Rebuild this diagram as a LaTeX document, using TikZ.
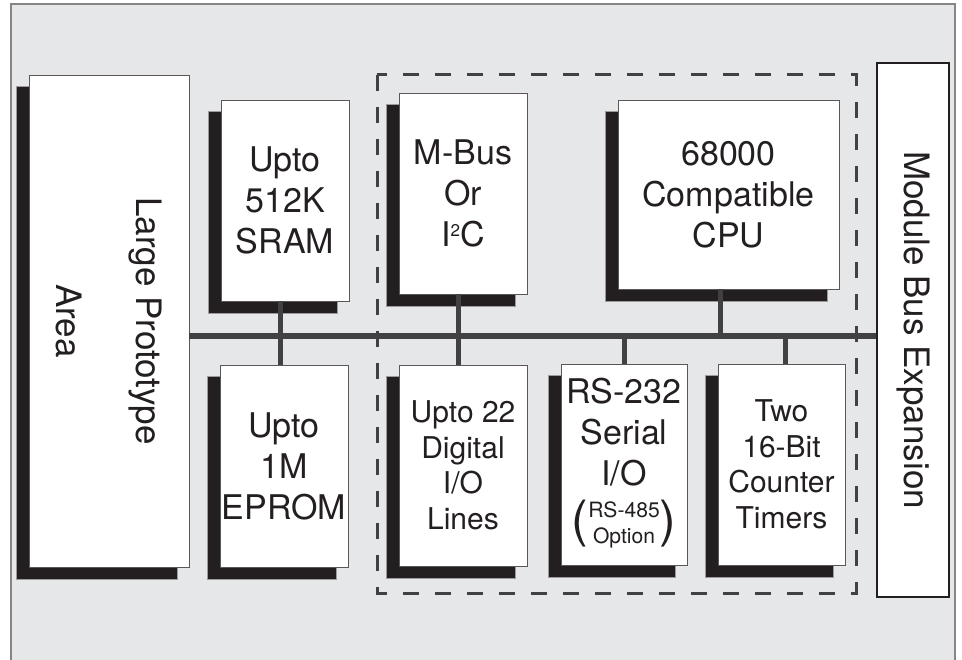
\documentclass[tikz,border=0pt]{standalone}
\usepackage{fontspec}
\usepackage{graphicx}
\setmainfont{TeX Gyre Heros}
\usetikzlibrary{positioning}
\pgfdeclarelayer{back}
\pgfsetlayers{back,main}
\definecolor{panel}{HTML}{E6E7E8}
\definecolor{ink}{HTML}{231F20}
\definecolor{busgray}{HTML}{414042}
\newcommand{\bigtxt}{\fontsize{34}{41}\selectfont}
\newcommand{\midtxt}{\fontsize{30}{35.5}\selectfont}
\newcommand{\paren}[1]{{\fontsize{50}{50}\selectfont#1}}

\begin{document}
\begin{tikzpicture}[x=1pt, y=-1pt,
  box/.style={draw=ink!75, line width=0.8pt, fill=white, text=ink,
              align=center, inner sep=0pt},
  card/.style={box, minimum width=128pt, minimum height=201pt, font=\bigtxt},
  tall/.style={box, rotate=-90, font=\fontsize{35}{80}\selectfont},
  dropfill/.style={fill=ink, draw=ink!45, line width=0.5pt},
  bus/.style={draw=busgray, line width=6pt},
  stub/.style={draw=busgray, line width=5pt},
  coregroup/.style={draw=busgray, line width=3pt, dash pattern=on 16pt off 16pt}]
\useasboundingbox (0,0) rectangle (962,660);
\begin{pgfonlayer}{back}
  \draw[draw=ink!55, line width=1.5pt, fill=panel] (11,664) |- (955,4) -- (955,664);
\end{pgfonlayer}
\coordinate (busY) at (0,336);
% left side: prototype area and memory
\node[tall, minimum width=492pt, minimum height=160pt] (proto) at (109,321)
  {Large Prototype\\Area};
\node[card] (sram) at (285,200.5) {Upto\\512K\\SRAM};
\node[card, minimum height=202pt] (eprom) at (284,466) {Upto\\1M\\EPROM};
% on-board peripherals
\node[card] (mbus) at (463,193.5)
  {M-Bus\\Or\\I\raisebox{10pt}{\scalebox{0.5}{2}}C};
\node[card, minimum width=221pt, minimum height=189pt] (cpu) at (728.5,194.5)
  {68000\\Compatible\\CPU};
\node[card, font=\midtxt] (dio) at (463,465.5) {Upto 22\\Digital\\I/O\\Lines};
\node[card, minimum width=126pt] (serial) at (624,464.5)
  {RS-232\\Serial\\I/O\\[10pt]\paren{(}\raisebox{7.5pt}{\scalebox{0.62}{%
   \begin{tabular}{@{}c@{}}RS-485\\Option\end{tabular}}}\paren{)}};
\node[card, font=\midtxt, minimum width=127pt] (timers) at (781.5,464.5)
  {Two\\16-Bit\\Counter\\Timers};
\node[tall, minimum width=534pt, minimum height=72pt, draw=ink, line width=2.5pt,
  font=\fontsize{35}{42}\selectfont] (expbus) at (913,330) {Module Bus Expansion};
\begin{pgfonlayer}{back}
  \foreach \n in {proto,sram,eprom,mbus,cpu,dio,serial,timers}
    \path[dropfill] ([shift={(-12,12)}]\n.south west)
      rectangle ([shift={(-12,12)}]\n.north east);
  \draw[coregroup] (377,75) rectangle (856,593);
\end{pgfonlayer}
\draw[bus] (proto.north |- busY) -- (expbus.south |- busY);
\draw[stub] ([xshift=-5pt]sram.south) -- ([xshift=-5pt]sram.south |- busY);
\draw[stub] ([xshift=-4pt]eprom.north) -- ([xshift=-4pt]eprom.north |- busY);
\draw[stub] ([xshift=-5pt]mbus.south) -- ([xshift=-5pt]mbus.south |- busY);
\draw[stub] ([xshift=-8pt]cpu.south) -- ([xshift=-8pt]cpu.south |- busY);
\draw[stub] ([xshift=-5pt]dio.north) -- ([xshift=-5pt]dio.north |- busY);
\draw[stub] (serial.north) -- (serial.north |- busY);
\draw[stub] ([xshift=4pt]timers.north) -- ([xshift=4pt]timers.north |- busY);
\end{tikzpicture}
\end{document}
